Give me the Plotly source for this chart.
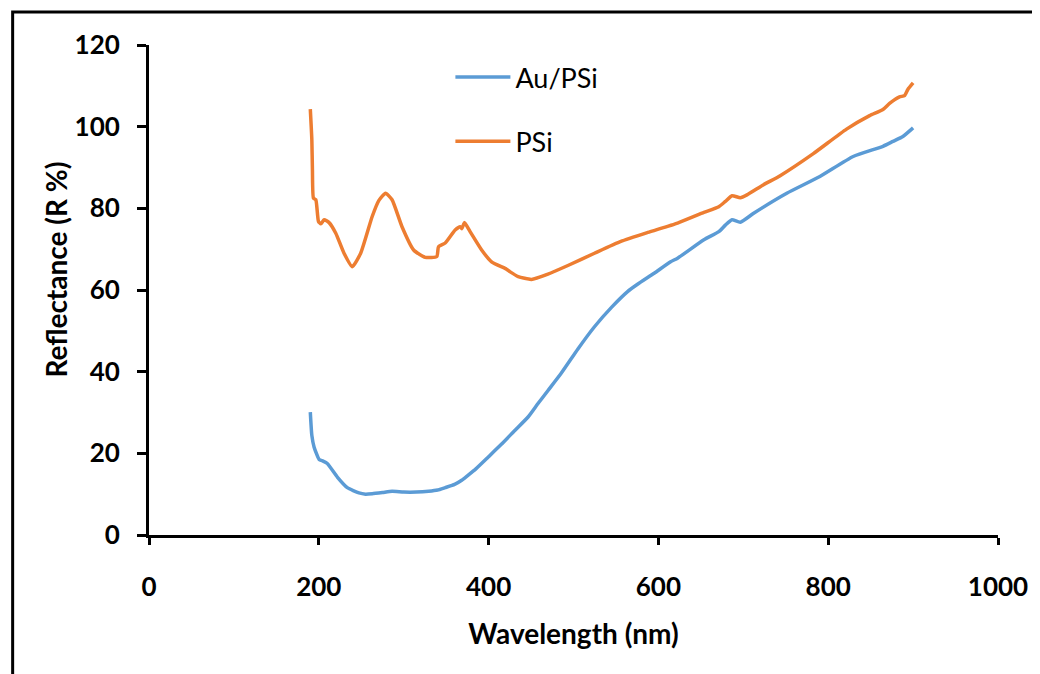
import plotly.graph_objects as go

# Wavelength (nm) and reflectance (R %)
wl_au = [190, 191.8, 194.5, 200.4, 205, 210, 221.8, 233.6, 247.3, 255, 262.9, 275, 286.3, 300,
         315, 329.3, 340, 348.9, 360, 368.3, 375, 385, 399.6, 415, 430.9, 446.5, 458.2, 470,
         485.5, 505, 524.7, 545, 563.7, 575.4, 595, 614.4, 622.6, 653.6, 671.2, 678.9, 686.7,
         696.5, 712.2, 751.2, 790.2, 829.4, 864.5, 876.3, 888, 900]
r_au = [30.1, 24.4, 21.5, 18.5, 18.1, 17.5, 14.2, 11.6, 10.3, 10.0, 10.1, 10.4, 10.7, 10.5,
        10.5, 10.7, 11.0, 11.6, 12.4, 13.4, 14.5, 16.2, 19.1, 22.2, 25.6, 28.9, 32.2, 35.4,
        39.6, 45.5, 51.0, 55.8, 59.6, 61.4, 64.1, 66.9, 67.8, 72.3, 74.3, 75.9, 77.2,
        76.6, 78.8, 83.7, 87.8, 92.7, 95.2, 96.4, 97.6, 99.7]

wl_psi = [190, 191.8, 192.5, 193.7, 196.5, 199.6, 202.4, 206.3, 212.1, 220, 229.7, 239.4,
          249.3, 262.9, 271, 278.6, 286.3, 298, 311.7, 325.4, 339, 341, 348.9, 360.6, 366.5,
          368.5, 371.5, 378.2, 391.8, 403.5, 421.1, 425, 434.8, 450.4, 469.9, 493.4, 524.7,
          555.8, 587.5, 622.6, 653.6, 671.2, 678.9, 686.7, 696.5, 704.3, 723.9, 743.4, 782.5,
          821.6, 848.8, 864.5, 872.3, 884, 889.9, 893.8, 900]
r_psi = [104.3, 96.8, 89.4, 82.5, 82.1, 76.8, 76.2, 77.2, 76.5, 73.9, 69.0, 65.7,
         69.0, 78.0, 82.0, 83.7, 82.1, 75.5, 69.8, 68.0, 68.2, 70.6, 71.5, 74.7, 75.5,
         75.0, 76.5, 74.3, 69.8, 66.9, 65.1, 64.5, 63.3, 62.6, 63.9, 66.0, 69.0,
         71.9, 74.1, 76.4, 79.0, 80.4, 81.7, 83.1, 82.6, 83.3, 85.8, 88.0, 93.4,
         99.4, 102.7, 104.2, 105.7, 107.3, 107.6, 109.1, 110.7]

series_names = ["Au/PSi", "PSi"]
series_colors = ["#5B9BD5", "#ED7D31"]
x_ticks = [0, 200, 400, 600, 800, 1000]
y_ticks = [0, 20, 40, 60, 80, 100, 120]

fig = go.Figure()
for name, color, xs, ys in zip(series_names, series_colors, [wl_au, wl_psi], [r_au, r_psi]):
    fig.add_trace(go.Scatter(x=xs, y=ys, mode="lines", name=name, legendgroup=name,
                             line=dict(color=color, width=3.5, shape="spline", smoothing=0.5)))

tick_font = dict(family="Lato", size=26, color="black", weight="bold")
title_font = dict(family="Lato", size=28, color="black", weight="bold")

fig.update_layout(
    width=1032, height=666,
    margin=dict(l=141, r=38, t=37, b=139),
    paper_bgcolor="white", plot_bgcolor="white",
    showlegend=True,
    legend=dict(x=0.355, y=0.9837, xanchor="left", yanchor="top",
                font=dict(family="Lato", size=27, color="black"),
                bgcolor="rgba(0,0,0,0)", traceorder="grouped", tracegroupgap=26,
                itemwidth=55),
    xaxis=dict(range=[0, 1000], tickvals=x_ticks, ticks="outside", ticklen=7, tickwidth=3,
               tickcolor="black", showline=True, linecolor="black", linewidth=3,
               showgrid=False, zeroline=False, tickfont=tick_font, ticklabelstandoff=20,
               title=dict(text="Wavelength (nm)", font=title_font, standoff=24)),
    yaxis=dict(range=[0, 120], tickvals=y_ticks, ticks="outside", ticklen=9, tickwidth=3,
               tickcolor="black", showline=True, linecolor="black", linewidth=3,
               showgrid=False, zeroline=False, tickfont=tick_font, ticklabelstandoff=12),
    annotations=[dict(text="Reflectance (R %)", textangle=-90, xref="paper", yref="paper",
                      x=-0.110, y=0.541, xanchor="center", yanchor="middle",
                      showarrow=False, font=title_font)],
    shapes=[dict(type="rect", xref="paper", yref="paper",
                 x0=-0.1606, x1=1.06, y0=-0.32, y1=1.0673,
                 line=dict(color="black", width=3), fillcolor="rgba(0,0,0,0)", layer="below")],
)

fig.write_html("out.html")
